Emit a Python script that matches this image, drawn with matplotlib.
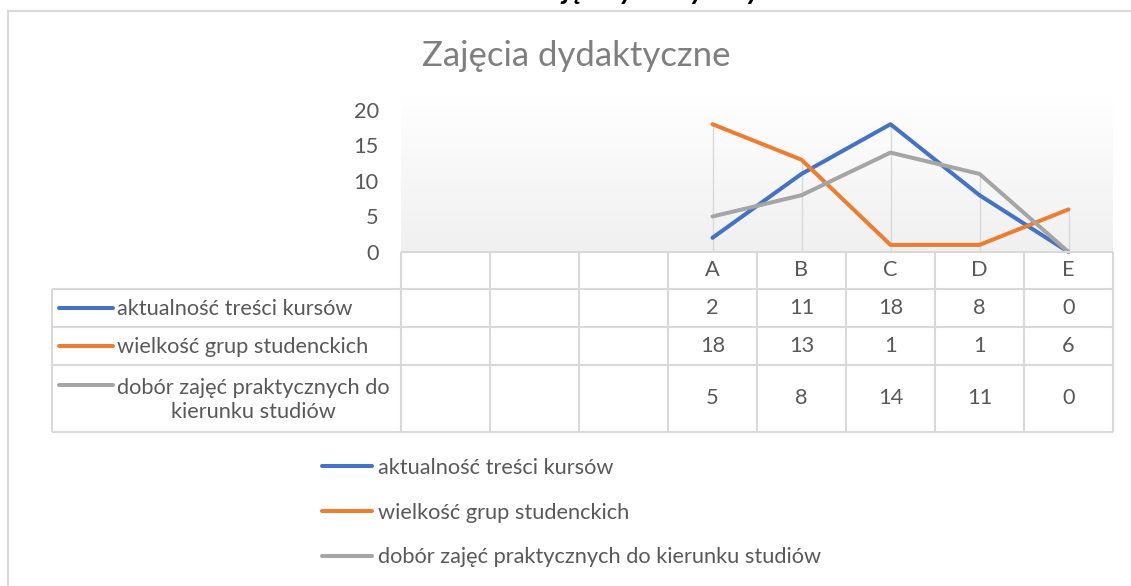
import matplotlib
matplotlib.use("Agg")
import matplotlib.pyplot as plt
import numpy as np
from matplotlib.lines import Line2D

plt.rcParams['font.family'] = ['Lato', 'DejaVu Sans']

# data
categories = ['', '', '', 'A', 'B', 'C', 'D', 'E']
series_names = ['aktualność treści kursów',
                'wielkość grup studenckich',
                'dobór zajęć praktycznych do kierunku studiów']
table_names = ['aktualność treści kursów',
               'wielkość grup studenckich',
               'dobór zajęć praktycznych do\nkierunku studiów']
aktualnosc = [None, None, None, 2, 11, 18, 8, 0]
wielkosc = [None, None, None, 18, 13, 1, 1, 6]
dobor = [None, None, None, 5, 8, 14, 11, 0]
series = [aktualnosc, wielkosc, dobor]
colors = ['#4472C4', '#ED7D31', '#A5A5A5']
y_ticks = [0, 5, 10, 15, 20]

W, H = 1131, 586
TXT = '#595959'
GRID = '#D9D9D9'
FS = 15.7


def fx(x):
    return x / W


def fy(y):
    return 1 - y / H


fig = plt.figure(figsize=(W / 100, H / 100), dpi=100)

# chart area border (top + left visible)
fig.add_artist(Line2D([fx(8), fx(8)], [fy(11), fy(600)], color=GRID, lw=1.5))
fig.add_artist(Line2D([fx(8), fx(1135)], [fy(11), fy(11)], color=GRID, lw=1.5))

# heading of the page, cut off at the top
fig.text(fx(790), fy(-1), 'Ocena zajęć dydaktycznych', ha='right', va='baseline',
         fontsize=21, fontweight='bold', fontstyle='italic', color='black')

fig.text(fx(576), fy(56), 'Zajęcia dydaktyczne', ha='center', va='center',
         fontsize=25, color='#7F7F7F')

# plot area
left, right, top, bottom = 401, 1113, 110, 252
ax = fig.add_axes([fx(left), fy(bottom), fx(right - left), (bottom - top) / H])
x = np.arange(len(categories))
ax.set_xlim(-0.5, len(categories) - 0.5)
ax.set_ylim(0, 20)

grad = np.linspace(1, 0, 256).reshape(-1, 1)
ax.imshow(grad, extent=[-0.5, len(categories) - 0.5, 0, 22], aspect='auto',
          cmap=matplotlib.colors.LinearSegmentedColormap.from_list('g', ['#F0F0F0', '#FFFFFF']),
          zorder=0, clip_on=False)

# drop lines
for i in range(len(categories)):
    vals = [s[i] for s in series if s[i] is not None]
    if vals:
        ax.vlines(i, 0, max(vals), color=GRID, lw=1, zorder=1)

handles = []
for name, vals, c in zip(series_names, series, colors):
    xs = [i for i, v in enumerate(vals) if v is not None]
    ys = [v for v in vals if v is not None]
    h, = ax.plot(xs, ys, color=c, lw=2.9, solid_capstyle='round', label=name,
                 zorder=3, clip_on=False)
    handles.append(h)

ax.set_yticks(y_ticks)
ax.set_xticks([])
ax.tick_params(axis='y', length=0, pad=16, labelsize=FS, labelcolor=TXT)
for s in ax.spines.values():
    s.set_visible(False)

# data table
tl = 52
row_y = [252, 289, 327, 365, 432]
tax = fig.add_axes([fx(tl), fy(432), fx(right - tl), (432 - 252) / H])
x0 = -0.5 - (left - tl) / (right - left) * len(categories)
tax.set_xlim(x0, len(categories) - 0.5)
tax.set_ylim(432, 252)
tax.axis('off')
kw = dict(color=GRID, lw=1.5, clip_on=False)
tax.hlines(row_y[0], -0.5, len(categories) - 0.5, **kw)
tax.hlines(row_y[1:], x0, len(categories) - 0.5, **kw)
tax.vlines(np.arange(len(categories) + 1) - 0.5, row_y[0], row_y[-1], **kw)
tax.vlines(x0, row_y[1], row_y[-1], **kw)

unit = len(categories) / (right - left)
for i, c in enumerate(categories):
    tax.text(i, (row_y[0] + row_y[1]) / 2, c, ha='center', va='center',
             fontsize=FS, color=TXT)
for r, (name, vals, c) in enumerate(zip(table_names, series, colors)):
    yc = (row_y[r + 1] + row_y[r + 2]) / 2
    yk = yc if r < 2 else row_y[r + 1] + 20
    tax.plot([x0 + 7 * unit, x0 + 61 * unit], [yk, yk], color=c, lw=2.9,
             solid_capstyle='round', clip_on=False)
    tax.text(x0 + 65 * unit, yc + 1, name, ha='left', va='center', multialignment='center',
             fontsize=FS, color=TXT, linespacing=1.25)
    for i, v in enumerate(vals):
        if v is not None:
            tax.text(i, yc, str(v), ha='center', va='center', fontsize=FS, color=TXT)

# legend
leg = fig.legend(handles=handles, loc='upper left', bbox_to_anchor=(fx(322), fy(458)),
                 frameon=False, fontsize=FS, labelcolor=TXT, handlelength=2.3,
                 handletextpad=0.25, labelspacing=1.13, borderpad=0, borderaxespad=0)

fig.savefig('out.png', dpi=100, facecolor='white')
